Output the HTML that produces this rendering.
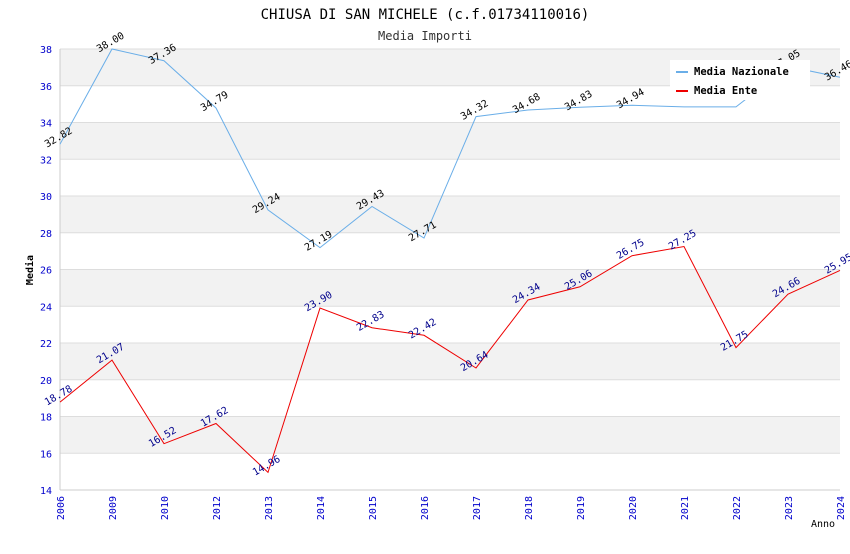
<!DOCTYPE html>
<html><head><meta charset="utf-8"><style>
body{margin:0;background:#fff;font-family:"DejaVu Sans Mono","Liberation Mono",monospace;}
svg text{font-family:"DejaVu Sans Mono","Liberation Mono",monospace;}
</style></head><body>
<svg id="chart" width="850" height="550" xmlns="http://www.w3.org/2000/svg">
<text x="425" y="19" text-anchor="middle" font-size="14" fill="#000">CHIUSA DI SAN MICHELE (c.f.01734110016)</text>
<text x="425" y="40" text-anchor="middle" font-size="12" fill="#333">Media Importi</text>
<g id="bands"></g><g id="axes"></g><g id="series"></g>
<g>
<rect x="670" y="60" width="140" height="40" fill="#fff"/>
<g><line x1="676" y1="72" x2="688" y2="72" stroke="#6aaee8" stroke-width="2"/><text x="694" y="75" font-size="10.5" font-weight="bold">Media Nazionale</text></g>
<g><line x1="676" y1="91" x2="688" y2="91" stroke="#e00" stroke-width="2"/><text x="694" y="94" font-size="10.5" font-weight="bold">Media Ente</text></g>
</g>
<text x="33" y="270" font-size="10" font-weight="bold" transform="rotate(-90 33 270)" text-anchor="middle">Media</text>
<text x="811" y="527" font-size="10">Anno</text>
</svg>
<script>
const categories=["2006","2009","2010","2012","2013","2014","2015","2016","2017","2018","2019","2020","2021","2022","2023","2024"];
const nazionale=[32.82,38.00,37.36,34.79,29.24,27.19,29.43,27.71,34.32,34.68,34.83,34.94,34.85,34.85,37.05,36.46];
const ente=[18.78,21.07,16.52,17.62,14.96,23.90,22.83,22.42,20.64,24.34,25.06,26.75,27.25,21.75,24.66,25.95];
const yTicks=[14,16,18,20,22,24,26,28,30,32,34,36,38];
const NS="http://www.w3.org/2000/svg";
const x0=60,x1=840,yTop=49,yBot=490,yMin=14,yMax=38;
const xs=i=>x0+i*(x1-x0)/(categories.length-1);
const ys=v=>yBot-(v-yMin)*(yBot-yTop)/(yMax-yMin);
function mk(t,a,p){const e=document.createElementNS(NS,t);for(const k in a)e.setAttribute(k,a[k]);p.appendChild(e);return e;}
const bands=document.getElementById('bands'),axes=document.getElementById('axes'),series=document.getElementById('series');
for(let i=0;i<yTicks.length-1;i++){
 const a=yTicks[i],b=yTicks[i+1];
 const r=mk('rect',{x:x0,y:ys(b),width:x1-x0,height:ys(a)-ys(b),fill:(i%2==1)?'#f2f2f2':'#fff'},bands);
 
 
}
yTicks.forEach(v=>{
 const l=mk('line',{x1:x0,x2:x1,y1:ys(v),y2:ys(v),stroke:'#ddd'},axes);
 
 
 const t=mk('text',{x:x0-8,y:ys(v)+4,'text-anchor':'end','font-size':10,fill:'#00c'},axes);
 t.textContent=v;
 
 
});
mk('line',{x1:x0,x2:x0,y1:yTop,y2:yBot,stroke:'#ccc'},axes);
mk('line',{x1:x0,x2:x1,y1:yBot,y2:yBot,stroke:'#ccc'},axes);
categories.forEach((c,i)=>{
 const x=xs(i),y=yBot+6;
 const t=mk('text',{x:x+4,y:y,'text-anchor':'end','font-size':10,fill:'#00c',transform:`rotate(-90 ${x+4} ${y})`},axes);
 t.textContent=c;
 
 
});
function drawSeries(vals,color,labColor,name,skip){
 const p=mk('polyline',{points:vals.map((v,i)=>xs(i)+','+ys(v)).join(' '),fill:'none',stroke:color,'stroke-width':1},series);
 
 
 vals.forEach((v,i)=>{
  if(skip&&skip.includes(i))return;
  const x=xs(i),y=ys(v)-4;
  const t=mk('text',{x:x,y:y,'text-anchor':'middle','font-size':10,fill:labColor,transform:`rotate(-30 ${x} ${y})`},series);
  t.textContent=v.toFixed(2);
  
  
 });
}
drawSeries(nazionale,'#6aaee8','#000','nazionale',[12,13]);
drawSeries(ente,'#e00','#00008b','ente');
</script>
</body></html>
